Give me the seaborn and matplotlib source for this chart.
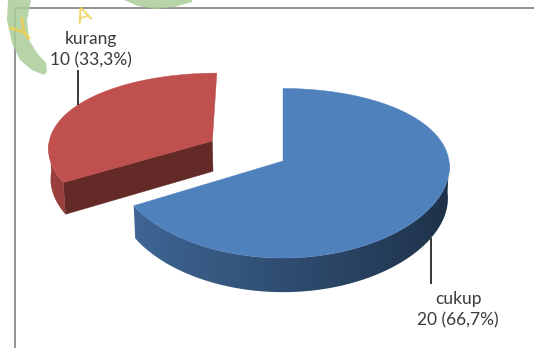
import numpy as np
import matplotlib
matplotlib.use("Agg")
import matplotlib.pyplot as plt
from matplotlib.colors import to_rgb
from matplotlib.patches import Polygon
import seaborn as sns

# Data
categories = ["cukup", "kurang"]
counts = [20, 10]
explode = [0.0, 0.5]
slice_colors = ["#4F81BD", "#C0504D"]

# Label layout (pixel positions of each label block and leader end)
label_pos = [(458, 310), (91, 50)]
leader_end = [284, 70]

sns.set_theme(style="white")
plt.rcParams["font.family"] = ["Lato", "DejaVu Sans"]

W, H = 534, 348
fig = plt.figure(figsize=(W / 100, H / 100), dpi=100, facecolor="white")
ax = fig.add_axes([0, 0, 1, 1])
ax.set_xlim(0, W)
ax.set_ylim(H, 0)
ax.axis("off")

# 3-D pie projection settings
CX, CY = 283.0, 161.0
SCALE = 166.0
ELEV = np.deg2rad(30.0)
DIST = 6.0
THICK = 0.22


def project(X, Y, Z):
    """Project disk coordinates (X right, Y up, Z toward viewer) to pixels."""
    ce, se = np.cos(ELEV), np.sin(ELEV)
    v = Y * ce - Z * se
    w = Y * se + Z * ce
    f = DIST / (DIST - w)
    return CX + SCALE * X * np.sqrt(f), CY - SCALE * v * f


def shade(color, k):
    r, g, b = to_rgb(color)
    return np.array([r * k, g * k, b * k])


total = float(sum(counts))
fracs = [c / total for c in counts]
starts = np.concatenate([[0.0], np.cumsum(fracs)[:-1]])

slices = []
for i, (frac, st) in enumerate(zip(fracs, starts)):
    t0 = 360.0 * st
    t1 = 360.0 * (st + frac)
    mid = np.deg2rad((t0 + t1) / 2)
    ox = explode[i] * np.sin(mid)
    oz = -explode[i] * np.cos(mid)
    slices.append(dict(i=i, t0=t0, t1=t1, mid=mid, ox=ox, oz=oz))

# paint back slices first
slices.sort(key=lambda s: s["oz"])

for s in slices:
    i, t0, t1, ox, oz = s["i"], s["t0"], s["t1"], s["ox"], s["oz"]
    base = slice_colors[i]

    def rim(theta_deg, Y):
        th = np.deg2rad(theta_deg)
        return project(ox + np.sin(th), Y, oz - np.cos(th))

    vt = project(ox, 0.0, oz)
    vb = project(ox, -THICK, oz)

    # radial cut faces
    for edge, normal_ang in ((t0, t0 - 90.0), (t1, t1 + 90.0)):
        if -np.cos(np.deg2rad(normal_ang)) > 1e-6:
            rt = rim(edge, 0.0)
            rb = rim(edge, -THICK)
            ax.fill([vt[0], rt[0], rb[0], vb[0]], [vt[1], rt[1], rb[1], vb[1]],
                    color=shade(base, 0.52), lw=0.3, zorder=2)

    # curved outer side: one polygon with a horizontal shading gradient
    thetas = np.linspace(t0, t1, 400)
    vis = -np.cos(np.deg2rad(thetas)) > 0
    if vis.any():
        th_v = thetas[vis]
        top_pts = [rim(a, 0.0) for a in th_v]
        bot_pts = [rim(a, -THICK) for a in th_v[::-1]]
        side = Polygon(top_pts + bot_pts, closed=True, facecolor="none",
                       edgecolor="none", transform=ax.transData)
        ax.add_patch(side)
        xs = np.array([p[0] for p in top_pts])
        ks = 0.6 - 0.22 * np.sin(np.deg2rad(th_v))
        order = np.argsort(xs)
        x0, x1 = xs.min() - 2, xs.max() + 2
        ys = [p[1] for p in top_pts + bot_pts]
        y0, y1 = min(ys) - 2, max(ys) + 2
        cols = np.linspace(x0, x1, 300)
        kcol = np.interp(cols, xs[order], ks[order])
        grad = np.array([shade(base, k) for k in kcol])[None, :, :]
        im = ax.imshow(np.repeat(grad, 2, axis=0), extent=[x0, x1, y1, y0],
                       aspect="auto", interpolation="bilinear", zorder=2)
        im.set_clip_path(side)
        # keep the limits fixed after imshow
        ax.set_xlim(0, W)
        ax.set_ylim(H, 0)

    # top face
    top = [vt] + [rim(a, 0.0) for a in np.linspace(t0, t1, 200)]
    ax.fill([p[0] for p in top], [p[1] for p in top], color=base, lw=0.3, zorder=3)

    # leader line and label
    front = -np.cos(s["mid"]) > 0
    mdeg = np.rad2deg(s["mid"])
    anchor = rim(mdeg, -THICK) if front else rim(mdeg, 0.0)
    ax.plot([anchor[0], anchor[0]], [anchor[1], leader_end[i]], color="black",
            lw=1.1, zorder=4, solid_capstyle="butt")
    pct = f"{100 * fracs[i]:.1f}".replace(".", ",")
    ax.text(label_pos[i][0], label_pos[i][1], f"{categories[i]}\n{counts[i]} ({pct}%)",
            ha="center", va="center", fontsize=12.5, color="#3a3a3a",
            linespacing=1.4, zorder=5)

# chart frame (top and left edges)
ax.plot([15, W], [8, 8], color="#8a8a8a", lw=1.3, zorder=1, solid_capstyle="butt")
ax.plot([15, 15], [8, H], color="#8a8a8a", lw=1.3, zorder=1, solid_capstyle="butt")

# faint logo stamp in the corner
green = "#a9cd98"
outer = [(8, 0), (7, 20), (12, 43), (20, 60), (32, 70), (44, 75)]
inner = [(47, 72), (46, 63), (37, 53), (29, 40), (27, 20), (31, 0)]
ax.add_patch(Polygon(outer + inner, closed=True, facecolor=green, edgecolor="none",
                     alpha=0.85, zorder=6))
ring_top = [(124, 0), (138, 6), (155, 9), (174, 7), (192, 2), (192, 0)]
ax.add_patch(Polygon(ring_top, closed=True, facecolor=green, edgecolor="none",
                     alpha=0.85, zorder=6))
ax.text(24, 32, "Y", fontsize=22, color="#f0cf50", alpha=0.9,
        rotation=40, ha="center", va="center", zorder=7)
ax.text(84, 16, "A", fontsize=16, color="#f0cf50", alpha=0.9,
        rotation=20, ha="center", va="center", zorder=7)

fig.savefig("out.png", dpi=100, facecolor="white")
